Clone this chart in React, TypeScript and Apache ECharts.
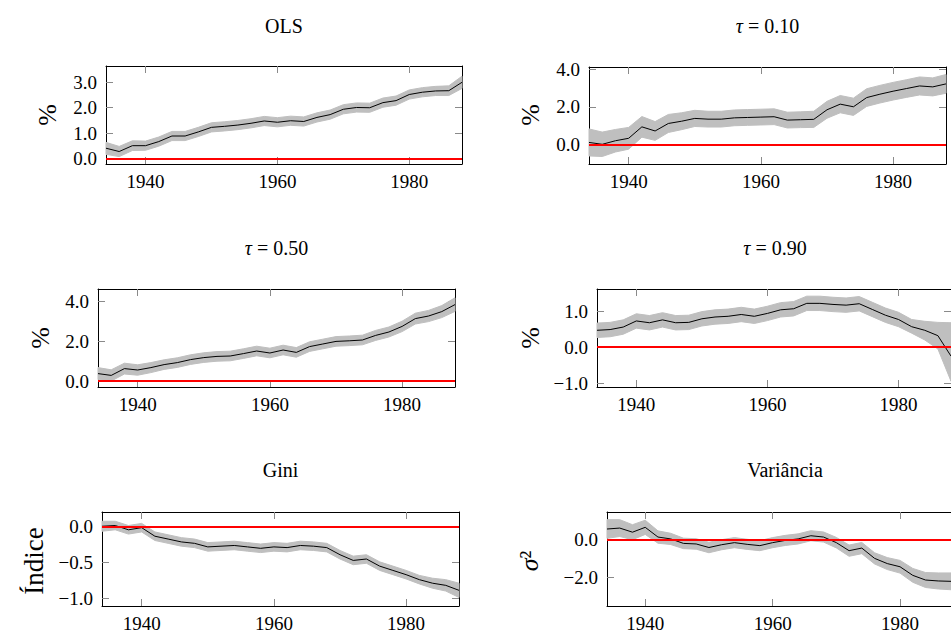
import React, { useEffect, useRef } from "react";
import * as echarts from "echarts";

// ---------- data ----------
const years = [1934, 1936, 1938, 1940, 1942, 1944, 1946, 1948, 1950, 1952, 1954, 1956, 1958, 1960, 1962, 1964, 1966, 1968, 1970, 1972, 1974, 1976, 1978, 1980, 1982, 1984, 1986, 1988];

const olsCenter = [0.41, 0.28, 0.51, 0.51, 0.67, 0.89, 0.89, 1.05, 1.23, 1.27, 1.32, 1.39, 1.48, 1.43, 1.49, 1.46, 1.62, 1.73, 1.94, 2.01, 2.0, 2.2, 2.28, 2.52, 2.61, 2.66, 2.67, 3.0];
const olsLower = [0.17, 0.08, 0.32, 0.33, 0.49, 0.71, 0.71, 0.87, 1.05, 1.09, 1.14, 1.21, 1.3, 1.25, 1.31, 1.28, 1.44, 1.55, 1.76, 1.83, 1.82, 2.02, 2.1, 2.34, 2.43, 2.48, 2.48, 2.76];
const olsUpper = [0.64, 0.48, 0.7, 0.69, 0.85, 1.07, 1.07, 1.23, 1.41, 1.45, 1.5, 1.57, 1.66, 1.61, 1.67, 1.64, 1.8, 1.91, 2.12, 2.19, 2.18, 2.38, 2.46, 2.7, 2.79, 2.84, 2.86, 3.24];

const q10Center = [0.1, 0.0, 0.19, 0.32, 0.93, 0.71, 1.11, 1.23, 1.38, 1.34, 1.34, 1.41, 1.43, 1.45, 1.47, 1.29, 1.31, 1.33, 1.84, 2.14, 2.0, 2.49, 2.67, 2.83, 2.97, 3.11, 3.06, 3.22];
const q10Lower = [-0.62, -0.65, -0.41, -0.26, 0.38, 0.21, 0.63, 0.78, 0.95, 0.92, 0.92, 0.99, 1.01, 1.03, 1.05, 0.87, 0.89, 0.9, 1.39, 1.68, 1.54, 2.02, 2.2, 2.36, 2.5, 2.63, 2.58, 2.72];
const q10Upper = [0.82, 0.65, 0.79, 0.9, 1.48, 1.21, 1.59, 1.68, 1.81, 1.76, 1.76, 1.83, 1.85, 1.87, 1.89, 1.71, 1.73, 1.76, 2.29, 2.6, 2.46, 2.96, 3.14, 3.3, 3.44, 3.59, 3.54, 3.72];

const q50Center = [0.37, 0.28, 0.62, 0.55, 0.67, 0.82, 0.92, 1.07, 1.17, 1.23, 1.25, 1.37, 1.5, 1.4, 1.55, 1.43, 1.72, 1.85, 1.98, 2.01, 2.05, 2.28, 2.45, 2.73, 3.12, 3.25, 3.47, 3.82];
const q50Lower = [0.07, 0.0, 0.35, 0.29, 0.42, 0.58, 0.68, 0.83, 0.93, 0.99, 1.01, 1.13, 1.26, 1.16, 1.31, 1.19, 1.48, 1.61, 1.74, 1.77, 1.81, 2.03, 2.2, 2.47, 2.85, 2.97, 3.17, 3.48];
const q50Upper = [0.67, 0.56, 0.89, 0.81, 0.92, 1.06, 1.16, 1.31, 1.41, 1.47, 1.49, 1.61, 1.74, 1.64, 1.79, 1.67, 1.96, 2.09, 2.22, 2.25, 2.29, 2.53, 2.7, 2.99, 3.39, 3.53, 3.77, 4.16];

const q90Center = [0.47, 0.49, 0.56, 0.73, 0.68, 0.76, 0.68, 0.69, 0.79, 0.84, 0.86, 0.91, 0.86, 0.94, 1.04, 1.07, 1.22, 1.22, 1.19, 1.17, 1.21, 1.05, 0.89, 0.77, 0.57, 0.47, 0.32, -0.25];
const q90Lower = [0.27, 0.29, 0.36, 0.53, 0.48, 0.56, 0.48, 0.49, 0.59, 0.64, 0.66, 0.71, 0.66, 0.74, 0.84, 0.87, 1.02, 1.02, 0.99, 0.97, 1.01, 0.85, 0.69, 0.57, 0.39, 0.2, -0.05, -0.95];
const q90Upper = [0.67, 0.69, 0.76, 0.93, 0.88, 0.96, 0.88, 0.89, 0.99, 1.04, 1.06, 1.11, 1.06, 1.14, 1.24, 1.27, 1.42, 1.42, 1.39, 1.37, 1.41, 1.25, 1.09, 0.97, 0.77, 0.72, 0.69, 0.68];

const giniCenter = [0.01, 0.02, -0.04, -0.01, -0.13, -0.17, -0.21, -0.23, -0.28, -0.27, -0.26, -0.28, -0.3, -0.28, -0.29, -0.26, -0.27, -0.29, -0.39, -0.47, -0.45, -0.55, -0.61, -0.67, -0.74, -0.79, -0.82, -0.89];
const giniLower = [-0.06, -0.04, -0.1, -0.07, -0.19, -0.23, -0.27, -0.29, -0.34, -0.33, -0.32, -0.34, -0.36, -0.34, -0.35, -0.32, -0.33, -0.35, -0.45, -0.53, -0.51, -0.61, -0.67, -0.73, -0.8, -0.86, -0.9, -0.99];
const giniUpper = [0.08, 0.08, 0.02, 0.05, -0.07, -0.11, -0.15, -0.17, -0.22, -0.21, -0.2, -0.22, -0.24, -0.22, -0.23, -0.2, -0.21, -0.23, -0.33, -0.41, -0.39, -0.49, -0.55, -0.61, -0.68, -0.72, -0.74, -0.79];

const varCenter = [0.58, 0.63, 0.41, 0.67, 0.15, 0.05, -0.19, -0.22, -0.41, -0.26, -0.15, -0.24, -0.31, -0.15, -0.03, 0.05, 0.22, 0.15, -0.15, -0.58, -0.44, -0.99, -1.27, -1.44, -1.9, -2.15, -2.2, -2.22];
const varLower = [0.08, 0.18, 0.01, 0.29, -0.18, -0.25, -0.47, -0.5, -0.69, -0.53, -0.42, -0.51, -0.58, -0.42, -0.3, -0.22, -0.05, -0.12, -0.43, -0.88, -0.74, -1.29, -1.59, -1.78, -2.27, -2.55, -2.63, -2.67];
const varUpper = [1.08, 1.08, 0.81, 1.05, 0.48, 0.35, 0.09, 0.06, -0.13, 0.01, 0.12, 0.03, -0.04, 0.12, 0.24, 0.32, 0.49, 0.42, 0.13, -0.28, -0.14, -0.69, -0.95, -1.1, -1.53, -1.75, -1.77, -1.77];

const xTicks = [1940, 1960, 1980];
const xMin = 1934;
const xMax = 1988;

const titles = ["OLS", "{i|τ} = 0.10", "{i|τ} = 0.50", "{i|τ} = 0.90", "Gini", "Variância"];
const yNames = ["%", "%", "%", "%", "Índice", "{i|σ}²"];
const yTicks = [[0, 1, 2, 3], [0, 2, 4], [0, 2, 4], [-1, 0, 1], [-1, -0.5, 0], [-2, 0]];
const yMins = [-0.21, -1.05, -0.3, -1.11, -1.11, -3.54];
const yMaxs = [3.64, 4.12, 4.6, 1.62, 0.21, 1.49];
const centers = [olsCenter, q10Center, q50Center, q90Center, giniCenter, varCenter];
const lowers = [olsLower, q10Lower, q50Lower, q90Lower, giniLower, varLower];
const uppers = [olsUpper, q10Upper, q50Upper, q90Upper, giniUpper, varUpper];

// ---------- layout ----------
const grids = [
  { left: 106, top: 66, width: 356, height: 98 },
  { left: 589, top: 67, width: 357, height: 97 },
  { left: 98, top: 289, width: 357, height: 98 },
  { left: 597, top: 289, width: 356, height: 98 },
  { left: 102, top: 512, width: 357, height: 98 },
  { left: 607, top: 512, width: 356, height: 98 },
];
const titleTops = [16, 16, 238, 238, 460, 460];
const yNamePos = [
  [47, 115], [530, 115], [40, 338], [530, 338], [34, 561], [529, 561],
];
const yNameSizes = [26, 26, 26, 26, 27, 26];

const FONT = "Liberation Serif";
const TICK_SIZE = 19;
const TITLE_SIZE = 20;

const fmt = (v: number) => {
  const s = Math.abs(v).toFixed(1);
  return v < 0 ? "\u2212" + s : s;
};

export default function App() {
  const ref = useRef<HTMLDivElement>(null);
  useEffect(() => {
    if (!ref.current) return;
    const chart = echarts.init(ref.current, undefined, { renderer: "svg" });

    const xAxis: any[] = [];
    const yAxis: any[] = [];
    const series: any[] = [];
    const title: any[] = [];
    const graphic: any[] = [];

    const tickStyle = { color: "#8a8a8a", width: 1 };
    const lineStyle = { color: "#000", width: 1 };

    for (let i = 0; i < 6; i++) {
      const g = grids[i];
      for (const pos of ["bottom", "top"]) {
        xAxis.push({
          type: "value",
          gridIndex: i,
          position: pos,
          min: xMin,
          max: xMax,
          axisLine: { show: true, onZero: false, lineStyle },
          axisTick: { show: true, inside: true, length: 7, customValues: xTicks, lineStyle: tickStyle },
          axisLabel: {
            show: pos === "bottom",
            customValues: xTicks,
            fontFamily: FONT,
            fontSize: TICK_SIZE,
            color: "#000",
            margin: 8,
            formatter: (v: number) => String(v),
          },
          splitLine: { show: false },
        });
      }
      for (const pos of ["left", "right"]) {
        yAxis.push({
          type: "value",
          gridIndex: i,
          position: pos,
          min: yMins[i],
          max: yMaxs[i],
          axisLine: { show: true, onZero: false, lineStyle },
          axisTick: { show: true, inside: true, length: 7, customValues: yTicks[i], lineStyle: tickStyle },
          axisLabel: {
            show: pos === "left",
            customValues: yTicks[i],
            fontFamily: FONT,
            fontSize: TICK_SIZE,
            color: "#000",
            margin: 9,
            formatter: (v: number) => fmt(v),
          },
          splitLine: { show: false },
        });
      }

      const xi = 2 * i;
      const yi = 2 * i;
      const lo = lowers[i];
      const up = uppers[i];
      series.push({
        type: "custom",
        xAxisIndex: xi,
        yAxisIndex: yi,
        data: years.map((y, j) => [y, lo[j], up[j]]),
        encode: { x: 0, y: [1, 2] },
        z: 1,
        silent: true,
        renderItem: (params: any, api: any) => {
          if (params.dataIndex !== 0) return null;
          const pts: number[][] = [];
          for (let j = 0; j < years.length; j++) pts.push(api.coord([years[j], up[j]]));
          for (let j = years.length - 1; j >= 0; j--) pts.push(api.coord([years[j], lo[j]]));
          return {
            type: "polygon",
            shape: { points: pts },
            style: { fill: "#bfbfbf", stroke: "#bfbfbf", lineWidth: 1, lineJoin: "round" },
          };
        },
      });
      series.push({
        type: "line",
        xAxisIndex: xi,
        yAxisIndex: yi,
        symbol: "none",
        lineStyle: { color: "#000", width: 1 },
        data: years.map((y, j) => [y, centers[i][j]]),
        z: 3,
        markLine: {
          silent: true,
          symbol: ["none", "none"],
          label: { show: false },
          lineStyle: { color: "#ff0000", width: 2, type: "solid" },
          data: [{ yAxis: 0 }],
          z: 4,
        },
      });

      title.push({
        text: titles[i],
        left: g.left + g.width / 2,
        top: titleTops[i],
        textAlign: "center",
        padding: 0,
        textStyle: {
          fontFamily: FONT,
          fontSize: TITLE_SIZE,
          fontWeight: "normal",
          color: "#000",
          rich: { i: { fontFamily: FONT, fontSize: TITLE_SIZE, fontWeight: "normal", fontStyle: "italic", color: "#000" } },
        },
      });

      graphic.push({
        type: "text",
        x: yNamePos[i][0],
        y: yNamePos[i][1],
        rotation: Math.PI / 2,
        style: {
          text: yNames[i],
          fontFamily: FONT,
          fontSize: yNameSizes[i],
          fill: "#000",
          align: "center",
          verticalAlign: "middle",
          rich: { i: { fontFamily: FONT, fontSize: yNameSizes[i], fontStyle: "italic", fill: "#000" } },
        },
      });
    }

    chart.setOption({
      animation: false,
      backgroundColor: "#fff",
      grid: grids.map((g) => ({ ...g, containLabel: false })),
      title,
      xAxis,
      yAxis,
      series,
      graphic,
    });
    return () => chart.dispose();
  }, []);

  return (
    <div
      ref={ref}
      style={{ position: "absolute", left: 0, top: 0, width: 951, height: 633 }}
    />
  );
}
